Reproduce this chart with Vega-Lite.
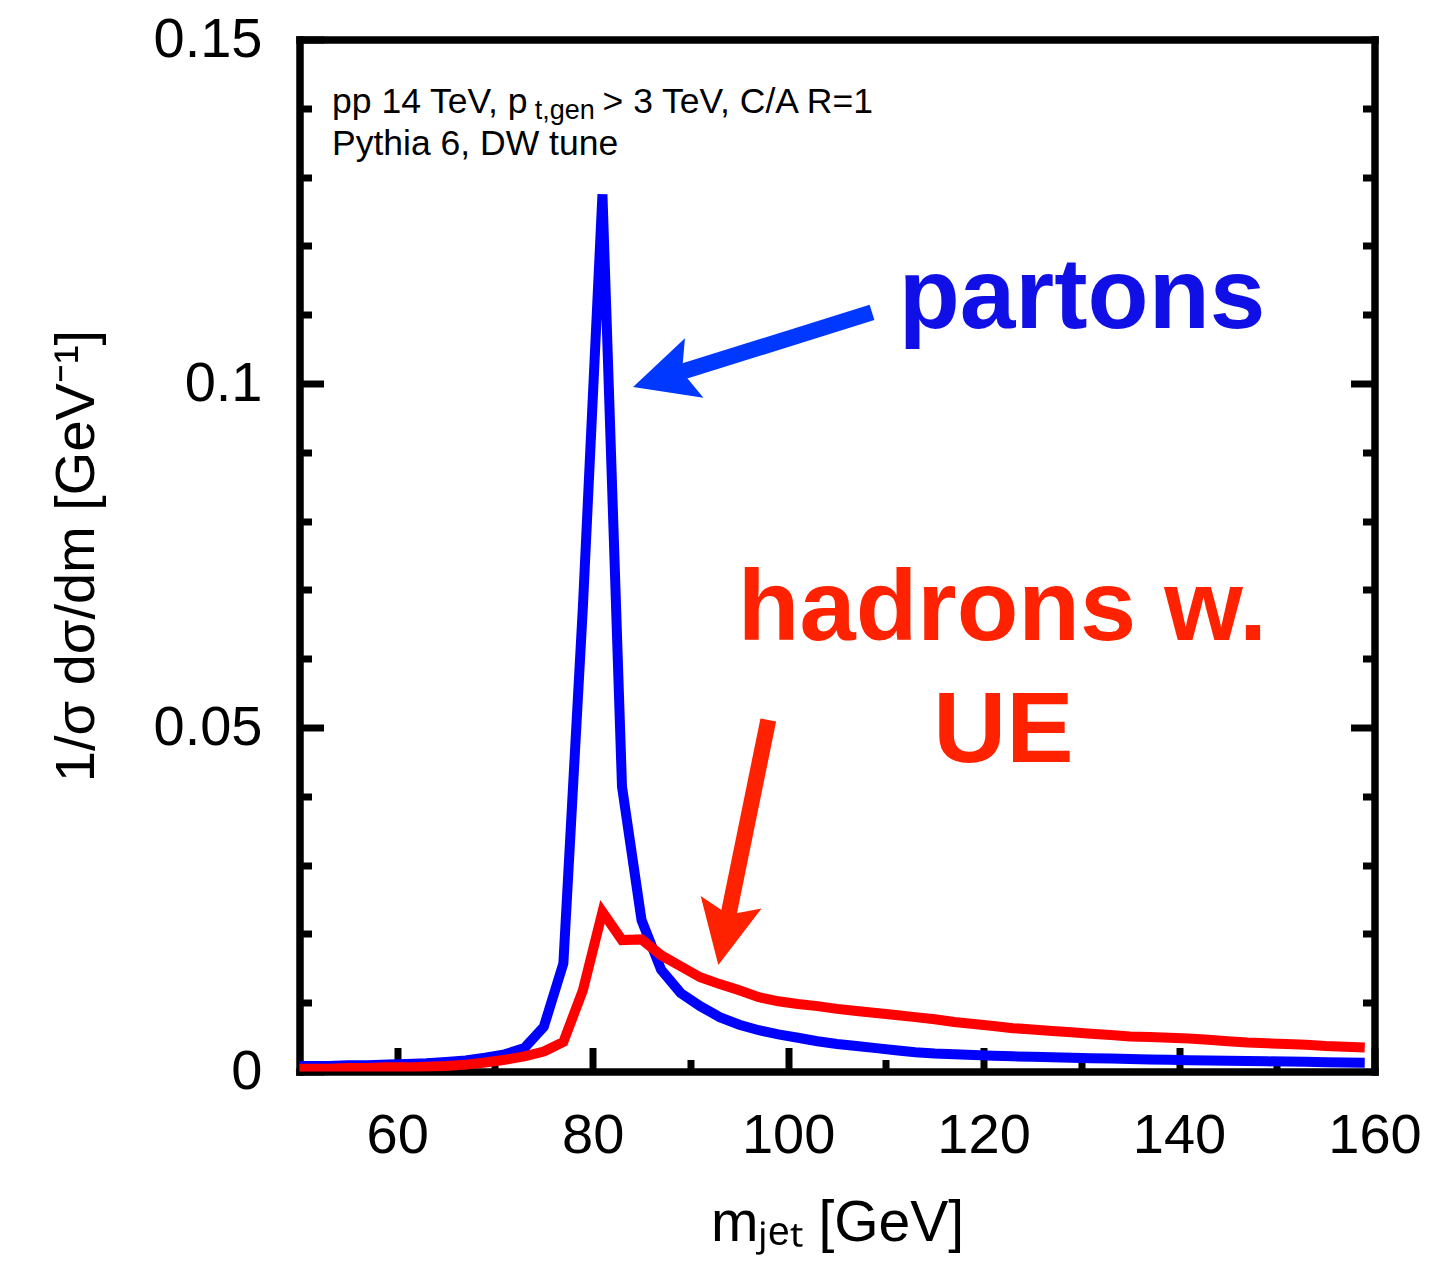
{
  "$schema": "https://vega.github.io/schema/vega-lite/v6.json",
  "width": 1075,
  "height": 1032,
  "autosize": {"type": "none"},
  "padding": {"left": 299.5, "top": 39.5, "right": 55.5, "bottom": 191.5},
  "background": "white",
  "config": {
    "view": {"stroke": null},
    "font": "Liberation Sans",
    "axis": {"grid": false, "labelFont": "Liberation Sans", "titleFont": "Liberation Sans", "labelColor": "black", "titleColor": "black", "tickColor": "black", "domainColor": "black", "zindex": 1, "labelFlush": false, "labelOverlap": false, "tickWidth": 7, "tickCap": "butt"}
  },
  "datasets": {
    "curves": [
      {"m": 49, "v": 0.0008, "series": "partons"},
      {"m": 51, "v": 0.0008, "series": "partons"},
      {"m": 53, "v": 0.0008, "series": "partons"},
      {"m": 55, "v": 0.0009, "series": "partons"},
      {"m": 57, "v": 0.0009, "series": "partons"},
      {"m": 59, "v": 0.0010, "series": "partons"},
      {"m": 61, "v": 0.0011, "series": "partons"},
      {"m": 63, "v": 0.0012, "series": "partons"},
      {"m": 65, "v": 0.0014, "series": "partons"},
      {"m": 67, "v": 0.0016, "series": "partons"},
      {"m": 69, "v": 0.0020, "series": "partons"},
      {"m": 71, "v": 0.0025, "series": "partons"},
      {"m": 73, "v": 0.0034, "series": "partons"},
      {"m": 75, "v": 0.0065, "series": "partons"},
      {"m": 77, "v": 0.0157, "series": "partons"},
      {"m": 79, "v": 0.0676, "series": "partons"},
      {"m": 81, "v": 0.1275, "series": "partons"},
      {"m": 83, "v": 0.0414, "series": "partons"},
      {"m": 85, "v": 0.0220, "series": "partons"},
      {"m": 87, "v": 0.0148, "series": "partons"},
      {"m": 89, "v": 0.0114, "series": "partons"},
      {"m": 91, "v": 0.0095, "series": "partons"},
      {"m": 93, "v": 0.0079, "series": "partons"},
      {"m": 95, "v": 0.0068, "series": "partons"},
      {"m": 97, "v": 0.0060, "series": "partons"},
      {"m": 99, "v": 0.0054, "series": "partons"},
      {"m": 101, "v": 0.0049, "series": "partons"},
      {"m": 103, "v": 0.0044, "series": "partons"},
      {"m": 105, "v": 0.0040, "series": "partons"},
      {"m": 107, "v": 0.0037, "series": "partons"},
      {"m": 109, "v": 0.0034, "series": "partons"},
      {"m": 111, "v": 0.0031, "series": "partons"},
      {"m": 113, "v": 0.0028, "series": "partons"},
      {"m": 115, "v": 0.0026, "series": "partons"},
      {"m": 117, "v": 0.0025, "series": "partons"},
      {"m": 119, "v": 0.0024, "series": "partons"},
      {"m": 121, "v": 0.0023, "series": "partons"},
      {"m": 123, "v": 0.0022, "series": "partons"},
      {"m": 125, "v": 0.00213, "series": "partons"},
      {"m": 127, "v": 0.00206, "series": "partons"},
      {"m": 129, "v": 0.0020, "series": "partons"},
      {"m": 131, "v": 0.00194, "series": "partons"},
      {"m": 133, "v": 0.00188, "series": "partons"},
      {"m": 135, "v": 0.00182, "series": "partons"},
      {"m": 137, "v": 0.00176, "series": "partons"},
      {"m": 139, "v": 0.0017, "series": "partons"},
      {"m": 141, "v": 0.00165, "series": "partons"},
      {"m": 143, "v": 0.0016, "series": "partons"},
      {"m": 145, "v": 0.00156, "series": "partons"},
      {"m": 147, "v": 0.00152, "series": "partons"},
      {"m": 149, "v": 0.00148, "series": "partons"},
      {"m": 151, "v": 0.00144, "series": "partons"},
      {"m": 153, "v": 0.0014, "series": "partons"},
      {"m": 155, "v": 0.00136, "series": "partons"},
      {"m": 157, "v": 0.00132, "series": "partons"},
      {"m": 159, "v": 0.00128, "series": "partons"},
      {"m": 49, "v": 0.0004, "series": "hadrons"},
      {"m": 51, "v": 0.0004, "series": "hadrons"},
      {"m": 53, "v": 0.0004, "series": "hadrons"},
      {"m": 55, "v": 0.0005, "series": "hadrons"},
      {"m": 57, "v": 0.0005, "series": "hadrons"},
      {"m": 59, "v": 0.0006, "series": "hadrons"},
      {"m": 61, "v": 0.0006, "series": "hadrons"},
      {"m": 63, "v": 0.0007, "series": "hadrons"},
      {"m": 65, "v": 0.0008, "series": "hadrons"},
      {"m": 67, "v": 0.0010, "series": "hadrons"},
      {"m": 69, "v": 0.0013, "series": "hadrons"},
      {"m": 71, "v": 0.0017, "series": "hadrons"},
      {"m": 73, "v": 0.0022, "series": "hadrons"},
      {"m": 75, "v": 0.0029, "series": "hadrons"},
      {"m": 77, "v": 0.0043, "series": "hadrons"},
      {"m": 79, "v": 0.0118, "series": "hadrons"},
      {"m": 81, "v": 0.0232, "series": "hadrons"},
      {"m": 83, "v": 0.0191, "series": "hadrons"},
      {"m": 85, "v": 0.0192, "series": "hadrons"},
      {"m": 87, "v": 0.0169, "series": "hadrons"},
      {"m": 89, "v": 0.0153, "series": "hadrons"},
      {"m": 91, "v": 0.0137, "series": "hadrons"},
      {"m": 93, "v": 0.0127, "series": "hadrons"},
      {"m": 95, "v": 0.0118, "series": "hadrons"},
      {"m": 97, "v": 0.0108, "series": "hadrons"},
      {"m": 99, "v": 0.0102, "series": "hadrons"},
      {"m": 101, "v": 0.0098, "series": "hadrons"},
      {"m": 103, "v": 0.0095, "series": "hadrons"},
      {"m": 105, "v": 0.0091, "series": "hadrons"},
      {"m": 107, "v": 0.0088, "series": "hadrons"},
      {"m": 109, "v": 0.0085, "series": "hadrons"},
      {"m": 111, "v": 0.0082, "series": "hadrons"},
      {"m": 113, "v": 0.0079, "series": "hadrons"},
      {"m": 115, "v": 0.0076, "series": "hadrons"},
      {"m": 117, "v": 0.0072, "series": "hadrons"},
      {"m": 119, "v": 0.0069, "series": "hadrons"},
      {"m": 121, "v": 0.0066, "series": "hadrons"},
      {"m": 123, "v": 0.0063, "series": "hadrons"},
      {"m": 125, "v": 0.0061, "series": "hadrons"},
      {"m": 127, "v": 0.0059, "series": "hadrons"},
      {"m": 129, "v": 0.0057, "series": "hadrons"},
      {"m": 131, "v": 0.0055, "series": "hadrons"},
      {"m": 133, "v": 0.0053, "series": "hadrons"},
      {"m": 135, "v": 0.0051, "series": "hadrons"},
      {"m": 137, "v": 0.0050, "series": "hadrons"},
      {"m": 139, "v": 0.0049, "series": "hadrons"},
      {"m": 141, "v": 0.0048, "series": "hadrons"},
      {"m": 143, "v": 0.0046, "series": "hadrons"},
      {"m": 145, "v": 0.0044, "series": "hadrons"},
      {"m": 147, "v": 0.0042, "series": "hadrons"},
      {"m": 149, "v": 0.0041, "series": "hadrons"},
      {"m": 151, "v": 0.0040, "series": "hadrons"},
      {"m": 153, "v": 0.0039, "series": "hadrons"},
      {"m": 155, "v": 0.0037, "series": "hadrons"},
      {"m": 157, "v": 0.0036, "series": "hadrons"},
      {"m": 159, "v": 0.0035, "series": "hadrons"}
    ]
  },
  "resolve": {"axis": {"x": "independent", "y": "independent"}},
  "layer": [
    {
      "data": {"name": "curves"},
      "mark": {"type": "line", "strokeWidth": 10, "clip": true},
      "encoding": {
        "x": {"field": "m", "type": "quantitative",
          "scale": {"domain": [50, 160], "nice": false, "zero": false},
          "axis": {"orient": "bottom", "values": [60, 80, 100, 120, 140, 160], "labelExpr": "format(datum.value, 'd')", "tickSize": -24, "labelFontSize": 56, "labelPadding": 60.5, "domain": true, "domainWidth": 7.5, "domainCap": "square", "title": "mⱼₑₜ [GeV]", "titleFontSize": 57, "titleFontWeight": "normal", "titleBaseline": "alphabetic", "titleX": 537.5, "titleY": 168.5}},
        "y": {"field": "v", "type": "quantitative",
          "scale": {"domain": [0, 0.15], "nice": false, "zero": false},
          "axis": {"orient": "left", "values": [0, 0.05, 0.1, 0.15], "labelExpr": "format(datum.value, '~g')", "tickSize": -24, "labelFontSize": 56, "labelPadding": 61.5, "domain": true, "domainWidth": 7.5, "domainCap": "square", "title": "1/σ dσ/dm [GeV⁻¹]", "titleFontSize": 56, "titleFontWeight": "normal", "titleBaseline": "alphabetic", "titleAngle": 270, "titleX": -206.5, "titleY": 516}},
        "color": {"field": "series", "type": "nominal", "scale": {"domain": ["partons", "hadrons"], "range": ["#0000ff", "#ff0000"]}, "legend": null}
      }
    },
    {
      "data": {"values": [{}]},
      "mark": {"type": "point", "opacity": 0},
      "encoding": {
        "x": {"datum": 100, "type": "quantitative", "axis": {"orient": "bottom", "values": [70, 90, 110, 130, 150], "tickSize": -12, "labels": false, "domain": false, "title": null}},
        "y": {"datum": 0.05, "type": "quantitative", "axis": {"orient": "left", "values": [0.01, 0.02, 0.03, 0.04, 0.06, 0.07, 0.08, 0.09, 0.11, 0.12, 0.13, 0.14], "tickSize": -12, "labels": false, "domain": false, "title": null}}
      }
    },
    {
      "data": {"values": [{}]},
      "mark": {"type": "point", "opacity": 0},
      "encoding": {
        "x": {"datum": 100, "type": "quantitative", "axis": null},
        "y": {"datum": 0.05, "type": "quantitative", "axis": {"orient": "right", "values": [0.05, 0.1], "tickSize": -24, "labels": false, "domain": true, "domainWidth": 7.5, "domainCap": "square", "title": null}}
      }
    },
    {
      "data": {"values": [{}]},
      "mark": {"type": "point", "opacity": 0},
      "encoding": {
        "x": {"datum": 100, "type": "quantitative", "axis": {"orient": "top", "ticks": false, "labels": false, "domain": true, "domainWidth": 7.5, "domainCap": "square", "title": null}},
        "y": {"datum": 0.05, "type": "quantitative", "axis": {"orient": "right", "values": [0.01, 0.02, 0.03, 0.04, 0.06, 0.07, 0.08, 0.09, 0.11, 0.12, 0.13, 0.14], "tickSize": -12, "labels": false, "domain": false, "title": null}}
      }
    },
    {
      "data": {"values": [{}]},
      "mark": {"type": "rule", "color": "#0038ff", "strokeWidth": 16, "strokeCap": "butt"},
      "encoding": {
        "x": {"datum": 108.58, "type": "quantitative", "axis": null},
        "y": {"datum": 0.11033, "type": "quantitative", "axis": null},
        "x2": {"datum": 88.53},
        "y2": {"datum": 0.10144}
      }
    },
    {
      "data": {"values": [{}]},
      "mark": {"type": "point", "shape": "M0,-1L0.97,1L0,0.6L-0.97,1Z", "size": 4096, "angle": 252.7, "filled": true, "color": "#0038ff", "opacity": 1, "strokeWidth": 0},
      "encoding": {
        "x": {"datum": 87.26, "type": "quantitative", "axis": null},
        "y": {"datum": 0.10087, "type": "quantitative", "axis": null}
      }
    },
    {
      "data": {"values": [{}]},
      "mark": {"type": "rule", "color": "#ff2200", "strokeWidth": 16, "strokeCap": "butt"},
      "encoding": {
        "x": {"datum": 97.97, "type": "quantitative", "axis": null},
        "y": {"datum": 0.05109, "type": "quantitative", "axis": null},
        "x2": {"datum": 93.77},
        "y2": {"datum": 0.02189}
      }
    },
    {
      "data": {"values": [{}]},
      "mark": {"type": "point", "shape": "M0,-1L0.97,1L0,0.6L-0.97,1Z", "size": 4096, "angle": 191.5, "filled": true, "color": "#ff2200", "opacity": 1, "strokeWidth": 0},
      "encoding": {
        "x": {"datum": 93.51, "type": "quantitative", "axis": null},
        "y": {"datum": 0.02004, "type": "quantitative", "axis": null}
      }
    },
    {
      "data": {"values": [{}]},
      "mark": {"type": "text", "text": "pp 14 TeV, p", "font": "Liberation Sans", "fontSize": 35.5, "color": "black", "align": "left", "baseline": "alphabetic"},
      "encoding": {
        "x": {"datum": 53.33, "type": "quantitative", "axis": null},
        "y": {"datum": 0.1393, "type": "quantitative", "axis": null}
      }
    },
    {
      "data": {"values": [{}]},
      "mark": {"type": "text", "text": "t,gen", "font": "Liberation Sans", "fontSize": 27, "color": "black", "align": "left", "baseline": "alphabetic", "dx": 202.6, "dy": 6},
      "encoding": {
        "x": {"datum": 53.33, "type": "quantitative", "axis": null},
        "y": {"datum": 0.1393, "type": "quantitative", "axis": null}
      }
    },
    {
      "data": {"values": [{}]},
      "mark": {"type": "text", "text": "> 3 TeV, C/A R=1", "font": "Liberation Sans", "fontSize": 35.5, "color": "black", "align": "left", "baseline": "alphabetic", "dx": 270.5},
      "encoding": {
        "x": {"datum": 53.33, "type": "quantitative", "axis": null},
        "y": {"datum": 0.1393, "type": "quantitative", "axis": null}
      }
    },
    {
      "data": {"values": [{}]},
      "mark": {"type": "text", "text": "Pythia 6, DW tune", "font": "Liberation Sans", "fontSize": 35.5, "color": "black", "align": "left", "baseline": "alphabetic"},
      "encoding": {
        "x": {"datum": 53.33, "type": "quantitative", "axis": null},
        "y": {"datum": 0.1332, "type": "quantitative", "axis": null}
      }
    },
    {
      "data": {"values": [{}]},
      "mark": {"type": "text", "text": "partons", "font": "Liberation Sans", "fontSize": 100, "fontWeight": "bold", "color": "#1010e6", "align": "center", "baseline": "alphabetic"},
      "encoding": {
        "x": {"datum": 130.07, "type": "quantitative", "axis": null},
        "y": {"datum": 0.1081, "type": "quantitative", "axis": null}
      }
    },
    {
      "data": {"values": [{}]},
      "mark": {"type": "text", "text": "hadrons w.", "font": "Liberation Sans", "fontSize": 101, "fontWeight": "bold", "color": "#ff2200", "align": "center", "baseline": "alphabetic"},
      "encoding": {
        "x": {"datum": 121.93, "type": "quantitative", "axis": null},
        "y": {"datum": 0.0627, "type": "quantitative", "axis": null}
      }
    },
    {
      "data": {"values": [{}]},
      "mark": {"type": "text", "text": "UE", "font": "Liberation Sans", "fontSize": 101, "fontWeight": "bold", "color": "#ff2200", "align": "center", "baseline": "alphabetic"},
      "encoding": {
        "x": {"datum": 122.03, "type": "quantitative", "axis": null},
        "y": {"datum": 0.045, "type": "quantitative", "axis": null}
      }
    }
  ]
}
